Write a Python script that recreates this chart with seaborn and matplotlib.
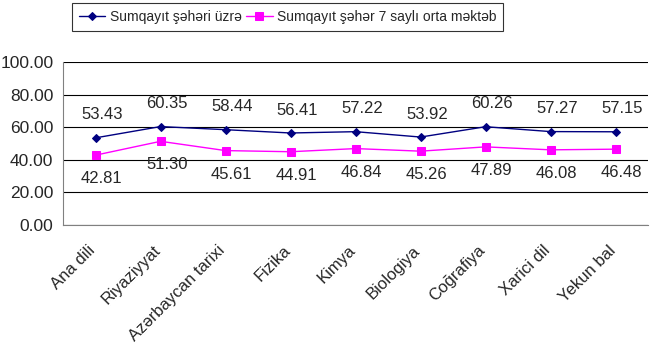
import numpy as np
import pandas as pd
import matplotlib
matplotlib.use('Agg')
import matplotlib.pyplot as plt
import matplotlib.transforms as mtransforms
import seaborn as sns

sns.set_style("white")
plt.rcParams['font.family'] = ['Liberation Sans', 'DejaVu Sans']

# ====================== DATA ======================
subjects = ['Ana dili', 'Riyaziyyat', 'Azərbaycan tarixi', 'Fizika', 'Kimya',
            'Biologiya', 'Coğrafiya', 'Xarici dil', 'Yekun bal']
city = [53.43, 60.35, 58.44, 56.41, 57.22, 53.92, 60.26, 57.27, 57.15]
school = [42.81, 51.30, 45.61, 44.91, 46.84, 45.26, 47.89, 46.08, 46.48]
yticks = [0, 20, 40, 60, 80, 100]

label_city = 'Sumqayıt şəhəri üzrə'
label_school = 'Sumqayıt şəhər 7 saylı orta məktəb'

pos = np.arange(len(subjects))

fig = plt.figure(figsize=(6.5, 3.52), dpi=100)
ax = fig.add_axes([0.097, 0.361, 0.9, 0.463])

sns.lineplot(x=pos, y=city, ax=ax, color='#000080', marker='D', markersize=4.5,
             markeredgecolor='#000080', lw=1, label=label_city)
sns.lineplot(x=pos, y=school, ax=ax, color='#FF00FF', marker='s', markersize=6,
             markeredgecolor='#FF00FF', lw=1, label=label_school)

for i in pos:
    ax.annotate(f'{city[i]:.2f}', (i, city[i]), xytext=(4.5, 16.5), textcoords='offset points',
                ha='center', va='center', fontsize=12)
    ax.annotate(f'{school[i]:.2f}', (i, school[i]), xytext=(4.5, -17), textcoords='offset points',
                ha='center', va='center', fontsize=12)

ax.set_xlim(-0.5, len(subjects) - 0.5)
ax.set_ylim(0, 100)
ax.set_yticks(yticks)
ax.set_yticklabels([f'{v:.2f}' for v in yticks], fontsize=12.5)
ax.yaxis.grid(True, color='black', lw=0.8)
ax.set_axisbelow(True)

# category ticks between groups, labels at centers
ax.set_xticks(np.arange(-0.5, len(subjects) + 0.5, 1.0))
ax.set_xticklabels([])
ax.tick_params(axis='x', direction='out', length=4, color='#808080')
ax.tick_params(axis='y', direction='out', length=4, color='#808080', pad=3)
ax.set_xticks(pos, minor=True)
ax.set_xticklabels(subjects, minor=True, rotation=45, ha='right', va='top',
                   rotation_mode='anchor', fontsize=12)
ax.tick_params(axis='x', which='minor', length=0, pad=0)
offset = mtransforms.ScaledTranslation(-8 / 100, -18 / 100, fig.dpi_scale_trans)
for lbl in ax.get_xticklabels(minor=True):
    lbl.set_transform(lbl.get_transform() + offset)

for s in ['top', 'right']:
    ax.spines[s].set_visible(False)
ax.spines['left'].set_color('#808080')
ax.spines['bottom'].set_color('#808080')

leg = ax.legend(loc='upper left', bbox_to_anchor=(72 / 650, 1 - 3 / 352), bbox_transform=fig.transFigure,
                ncol=2, frameon=True, fancybox=False, edgecolor='black', fontsize=10,
                handlelength=1.9, columnspacing=0.35, handletextpad=0.3, borderpad=0.5,
                borderaxespad=0)
leg.get_frame().set_linewidth(0.8)

plt.savefig('out.png', dpi=100)
